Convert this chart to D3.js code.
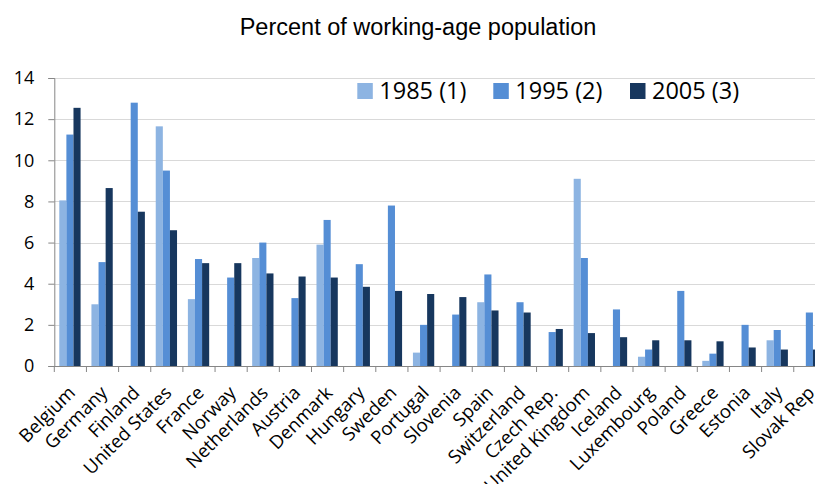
<!DOCTYPE html>
<html>
<head>
<meta charset="utf-8">
<script src="https://cdn.jsdelivr.net/npm/d3@7/dist/d3.min.js"></script>
<style>
  html, body { margin: 0; padding: 0; background: #fff; overflow: hidden; }
  svg { display: block; }
</style>
</head>
<body>
<svg id="chart" width="815" height="484"></svg>
<script>
const title = "Percent of working-age population";
const categories = ["Belgium","Germany","Finland","United States","France","Norway","Netherlands","Austria","Denmark","Hungary","Sweden","Portugal","Slovenia","Spain","Switzerland","Czech Rep.","United Kingdom","Iceland","Luxembourg","Poland","Greece","Estonia","Italy","Slovak Rep"];
const seriesNames = ["1985 (1)","1995 (2)","2005 (3)"];
const values1985 = [8.05,3.0,0,11.65,3.25,0,5.25,0,5.9,0,0,0.65,0,3.1,0,0,9.1,0,0.45,0,0.25,0,1.25,0];
const values1995 = [11.25,5.05,12.8,9.5,5.2,4.3,6.0,3.3,7.1,4.95,7.8,2.0,2.5,4.45,3.1,1.65,5.25,2.75,0.8,3.65,0.6,2.0,1.75,2.6];
const values2005 = [12.55,8.65,7.5,6.6,5.0,5.0,4.5,4.35,4.3,3.85,3.65,3.5,3.35,2.7,2.6,1.8,1.6,1.4,1.25,1.25,1.2,0.9,0.8,0.8];
const yTicks = [0,2,4,6,8,10,12,14];
const colors = ["#8DB4E2","#558ED5","#17375E"];

const seriesValues = [values1985, values1995, values2005];
const svg = d3.select("#chart");

const plotLeft = 54.3, bandW = 32.15;
const plotRight = plotLeft + bandW * categories.length;
const plotTop = 78, plotBottom = 366;

const x = d3.scaleBand().domain(categories).range([plotLeft, plotRight]).paddingInner(0).paddingOuter(0);
const xSub = d3.scaleBand().domain(seriesNames).range([bandW * 0.155, bandW * 0.155 + 21.3]).padding(0);
const y = d3.scaleLinear().domain([0, 14]).range([plotBottom, plotTop]);

// title
svg.append("text")
  .attr("x", 418).attr("y", 35)
  .attr("text-anchor", "middle")
  .attr("font-family", "Liberation Sans, Arial, sans-serif")
  .attr("font-size", 23.5)
  .attr("fill", "#000")
  .text(title);

// gridlines
svg.append("g").selectAll("line")
  .data(yTicks.filter(d => d > 0))
  .join("line")
  .attr("x1", plotLeft).attr("x2", 815)
  .attr("y1", d => Math.round(y(d)) + 0.5).attr("y2", d => Math.round(y(d)) + 0.5)
  .attr("stroke", "#D9D9D9").attr("stroke-width", 1.2);

// bars
const groups = svg.append("g").selectAll("g")
  .data(seriesNames.map((s, i) => ({name: s, vals: seriesValues[i], color: colors[i]})))
  .join("g")
  .attr("fill", d => d.color);
groups.selectAll("rect")
  .data(d => d.vals.map((v, j) => ({v, cat: categories[j], s: d.name})))
  .join("rect")
  .attr("x", d => x(d.cat) + xSub(d.s))
  .attr("width", xSub.bandwidth())
  .attr("y", d => y(d.v))
  .attr("height", d => y(0) - y(d.v));

// y axis
const yAxis = d3.axisLeft(y).tickValues(yTicks).tickSize(6).tickPadding(14).tickFormat(d3.format("d"));
const gy = svg.append("g").attr("transform", `translate(${plotLeft},0)`).call(yAxis);
gy.select(".domain").attr("stroke", "#868686");
gy.selectAll(".tick line").attr("stroke", "#868686");
gy.selectAll(".tick text")
  .attr("font-family", "Open Sans, sans-serif")
  .attr("font-size", 18)
  .attr("fill", "#000");

// x axis
const tickPositions = d3.range(categories.length + 1).map(i => plotLeft + i * bandW);
const gx = svg.append("g");
gx.append("line")
  .attr("x1", plotLeft).attr("x2", plotRight)
  .attr("y1", plotBottom + 0.5).attr("y2", plotBottom + 0.5)
  .attr("stroke", "#868686");
gx.selectAll("line.tk")
  .data(tickPositions)
  .join("line").attr("class", "tk")
  .attr("x1", d => d).attr("x2", d => d)
  .attr("y1", plotBottom).attr("y2", plotBottom + 6)
  .attr("stroke", "#868686");
gx.selectAll("text")
  .data(categories)
  .join("text")
  .attr("transform", d => `translate(${x(d) + x.bandwidth() / 2 + 6},${plotBottom + 28}) rotate(-45)`)
  .attr("text-anchor", "end")
  .attr("font-family", "Open Sans, sans-serif")
  .attr("font-size", 18.5)
  .attr("fill", "#000")
  .text(d => d);

// legend
const legendX = [357.3, 493.3, 630];
const lg = svg.append("g").selectAll("g")
  .data(seriesNames)
  .join("g")
  .attr("transform", (d, i) => `translate(${legendX[i]},83)`);
lg.append("rect").attr("width", 15.5).attr("height", 16).attr("fill", (d, i) => colors[i]);
lg.append("text")
  .attr("x", 22).attr("y", 16)
  .attr("font-family", "Open Sans, sans-serif")
  .attr("font-size", 23.5)
  .attr("fill", "#000")
  .text(d => d);
</script>
</body>
</html>
